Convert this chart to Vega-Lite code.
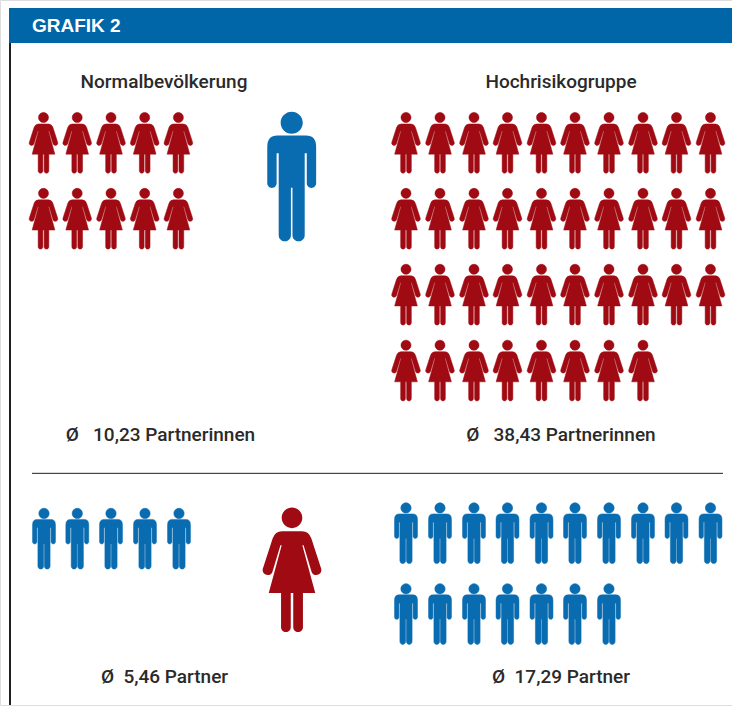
{"$schema":"https://vega.github.io/schema/vega-lite/v6.json","width":732,"height":706,"padding":0,"autosize":{"type":"fit","contains":"padding"},"background":"#ffffff",
"datasets":{
"women":[{"x":43.5,"y":143},{"x":77.2,"y":143},{"x":111,"y":143},{"x":144.7,"y":143},{"x":178.4,"y":143},{"x":43.5,"y":219},{"x":77.2,"y":219},{"x":111,"y":219},{"x":144.7,"y":219},{"x":178.4,"y":219},
{"x":406,"y":143},{"x":440,"y":143},{"x":474,"y":143},{"x":507.5,"y":143},{"x":541.5,"y":143},{"x":575,"y":143},{"x":609,"y":143},{"x":643,"y":143},{"x":676.5,"y":143},{"x":710.5,"y":143},
{"x":406,"y":219},{"x":440,"y":219},{"x":474,"y":219},{"x":507.5,"y":219},{"x":541.5,"y":219},{"x":575,"y":219},{"x":609,"y":219},{"x":643,"y":219},{"x":676.5,"y":219},{"x":710.5,"y":219},
{"x":406,"y":295},{"x":440,"y":295},{"x":474,"y":295},{"x":507.5,"y":295},{"x":541.5,"y":295},{"x":575,"y":295},{"x":609,"y":295},{"x":643,"y":295},{"x":676.5,"y":295},{"x":710.5,"y":295},
{"x":406,"y":371},{"x":440,"y":371},{"x":474,"y":371},{"x":507.5,"y":371},{"x":541.5,"y":371},{"x":575,"y":371},{"x":609,"y":371},{"x":643,"y":371}],
"men":[{"x":44,"y":539.5},{"x":77.3,"y":539.5},{"x":111,"y":539.5},{"x":145,"y":539.5},{"x":179,"y":539.5},
{"x":406,"y":534},{"x":440,"y":534},{"x":474,"y":534},{"x":507.5,"y":534},{"x":541.5,"y":534},{"x":575,"y":534},{"x":609,"y":534},{"x":643,"y":534},{"x":676.5,"y":534},{"x":710.5,"y":534},
{"x":406,"y":615},{"x":440,"y":615},{"x":474,"y":615},{"x":507.5,"y":615},{"x":541.5,"y":615},{"x":575,"y":615},{"x":609,"y":615}],
"labels":[{"x":164,"y":82.5,"t":"Normalbevölkerung"},{"x":561,"y":82.5,"t":"Hochrisikogruppe"},{"x":160.5,"y":435.5,"t":"Ø\u00a0\u00a0\u00a010,23 Partnerinnen"},{"x":561,"y":435.5,"t":"Ø\u00a0\u00a0\u00a038,43 Partnerinnen"},{"x":164.5,"y":677.5,"t":"Ø\u00a0\u00a05,46 Partner"},{"x":561,"y":677.5,"t":"Ø\u00a0\u00a017,29 Partner"}]
},
"encoding":{"x":{"field":"x","type":"quantitative","axis":null,"scale":{"domain":[0,732],"nice":false,"zero":false}},"y":{"field":"y","type":"quantitative","axis":null,"scale":{"domain":[706,0],"nice":false,"zero":false}}},
"layer":[
{"data":{"values":[{"x":9,"x2":732,"y":8,"y2":43}]},"mark":{"type":"rect","color":"#0066a8"},"encoding":{"x2":{"field":"x2"},"y2":{"field":"y2"}}},
{"data":{"values":[{"x":10,"y":43,"y2":706}]},"mark":{"type":"rule","color":"#231f20","strokeWidth":2},"encoding":{"y2":{"field":"y2"}}},
{"data":{"values":[{"x":32,"x2":723,"y":474}]},"mark":{"type":"rule","color":"#231f20","strokeWidth":1},"encoding":{"x2":{"field":"x2"}}},
{"data":{"name":"women"},"mark":{"type":"point","filled":true,"opacity":1,"color":"#a00a12","stroke":"#a00a12","strokeWidth":0.5,"size":3721,"shape":"M-0.165,-0.83A0.165,0.165,0,1,1,0.165,-0.83A0.165,0.165,0,1,1,-0.165,-0.83ZM-0.16,-0.617L0.16,-0.617Q0.27,-0.617,0.31,-0.5L0.462,-0.03A0.075,0.075,0,0,1,0.315,0.04L0.185,-0.39L0.165,-0.39L0.372,0.372L0.175,0.372L0.175,0.92A0.0775,0.0775,0,0,1,0.02,0.92L0.02,0.372L-0.02,0.372L-0.02,0.92A0.0775,0.0775,0,0,1,-0.175,0.92L-0.175,0.372L-0.372,0.372L-0.165,-0.39L-0.185,-0.39L-0.315,0.04A0.075,0.075,0,0,1,-0.462,-0.03L-0.31,-0.5Q-0.27,-0.617,-0.16,-0.617Z"}},
{"data":{"values":[{"x":292,"y":570.5}]},"mark":{"type":"point","filled":true,"opacity":1,"color":"#a00a12","size":15625,"shape":"M-0.165,-0.83A0.165,0.165,0,1,1,0.165,-0.83A0.165,0.165,0,1,1,-0.165,-0.83ZM-0.16,-0.617L0.16,-0.617Q0.27,-0.617,0.31,-0.5L0.462,-0.03A0.075,0.075,0,0,1,0.315,0.04L0.185,-0.39L0.165,-0.39L0.372,0.372L0.175,0.372L0.175,0.92A0.0775,0.0775,0,0,1,0.02,0.92L0.02,0.372L-0.02,0.372L-0.02,0.92A0.0775,0.0775,0,0,1,-0.175,0.92L-0.175,0.372L-0.372,0.372L-0.165,-0.39L-0.185,-0.39L-0.315,0.04A0.075,0.075,0,0,1,-0.462,-0.03L-0.31,-0.5Q-0.27,-0.617,-0.16,-0.617Z"}},
{"data":{"name":"men"},"mark":{"type":"point","filled":true,"opacity":1,"color":"#0a6cb0","stroke":"#0a6cb0","strokeWidth":0.5,"size":3721,"shape":"M-0.17,-0.83A0.17,0.17,0,1,1,0.17,-0.83A0.17,0.17,0,1,1,-0.17,-0.83ZM-0.22,-0.634L0.22,-0.634Q0.376,-0.634,0.376,-0.46L0.376,0.1A0.072,0.072,0,0,1,0.232,0.1L0.232,-0.36L0.2,-0.36L0.2,0.9A0.094,0.094,0,0,1,0.012,0.9L0.012,0.17L-0.012,0.17L-0.012,0.9A0.094,0.094,0,0,1,-0.2,0.9L-0.2,-0.36L-0.232,-0.36L-0.232,0.1A0.072,0.072,0,0,1,-0.376,0.1L-0.376,-0.46Q-0.376,-0.634,-0.22,-0.634Z"}},
{"data":{"values":[{"x":291.7,"y":177}]},"mark":{"type":"point","filled":true,"opacity":1,"color":"#0a6cb0","size":16900,"shape":"M-0.17,-0.83A0.17,0.17,0,1,1,0.17,-0.83A0.17,0.17,0,1,1,-0.17,-0.83ZM-0.22,-0.634L0.22,-0.634Q0.376,-0.634,0.376,-0.46L0.376,0.1A0.072,0.072,0,0,1,0.232,0.1L0.232,-0.36L0.2,-0.36L0.2,0.9A0.094,0.094,0,0,1,0.012,0.9L0.012,0.17L-0.012,0.17L-0.012,0.9A0.094,0.094,0,0,1,-0.2,0.9L-0.2,-0.36L-0.232,-0.36L-0.232,0.1A0.072,0.072,0,0,1,-0.376,0.1L-0.376,-0.46Q-0.376,-0.634,-0.22,-0.634Z"}},
{"data":{"name":"labels"},"mark":{"type":"text","font":"Roboto","fontSize":19,"fontWeight":500,"color":"#2a2a2a","align":"center","baseline":"middle"},"encoding":{"text":{"field":"t"}}},
{"data":{"values":[{"x":32,"y":26.5,"t":"GRAFIK 2"}]},"mark":{"type":"text","font":"Liberation Sans","fontSize":19,"fontWeight":"bold","color":"#ffffff","align":"left","baseline":"middle"},"encoding":{"text":{"field":"t"}}}
]}
